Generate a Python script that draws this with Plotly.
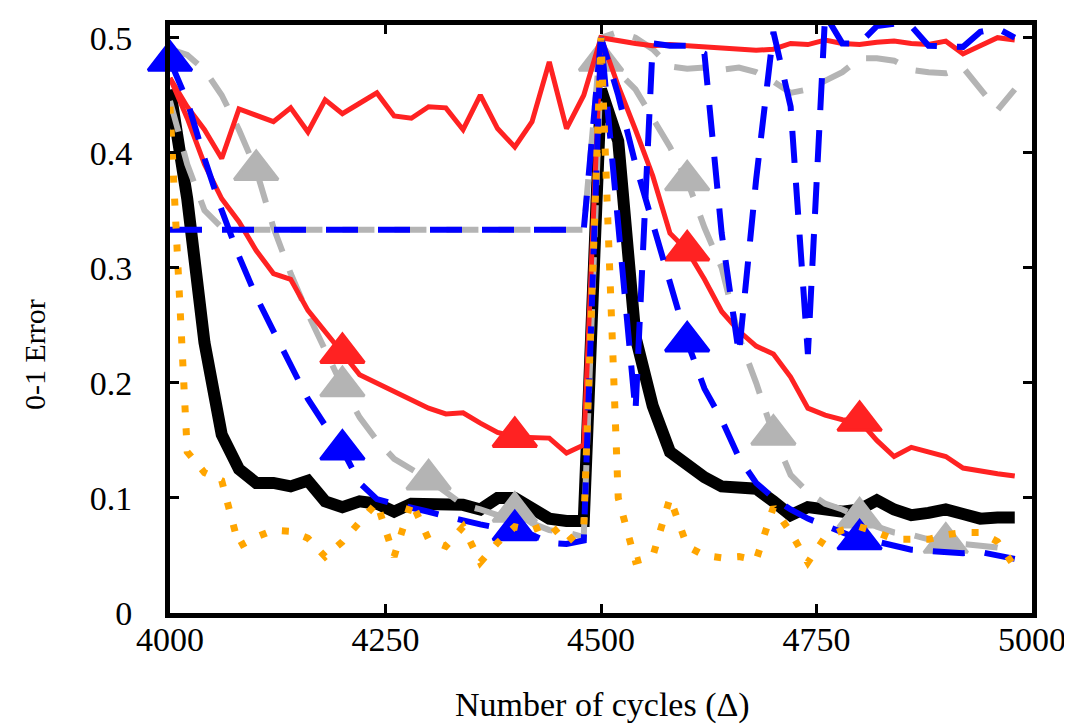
import plotly.graph_objects as go

cycles = list(range(4000, 5000, 20))

black_err = [0.455, 0.36, 0.235, 0.155, 0.125, 0.113, 0.113, 0.11, 0.115, 0.097,
             0.092, 0.097, 0.095, 0.088, 0.095, 0.095, 0.095, 0.094, 0.09, 0.1,
             0.1, 0.09, 0.082, 0.08, 0.08, 0.455, 0.41, 0.24, 0.18, 0.14,
             0.128, 0.118, 0.11, 0.11, 0.108, 0.097, 0.085, 0.092, 0.091, 0.088,
             0.09, 0.098, 0.09, 0.085, 0.087, 0.09, 0.086, 0.082, 0.083, 0.083]

red_flat = [0.465, 0.44, 0.42, 0.395, 0.438, 0.432, 0.427, 0.439, 0.418, 0.446,
            0.434, 0.443, 0.452, 0.432, 0.43, 0.44, 0.439, 0.42, 0.45, 0.421,
            0.405, 0.427, 0.479, 0.421, 0.45, 0.5, 0.497, 0.495, 0.493, 0.494,
            0.493, 0.492, 0.491, 0.49, 0.489, 0.49, 0.495, 0.494, 0.498, 0.495,
            0.494, 0.496, 0.497, 0.495, 0.494, 0.497, 0.486, 0.493, 0.5, 0.498]

red_tri = [0.465, 0.43, 0.39, 0.36, 0.34, 0.315, 0.295, 0.29, 0.263, 0.245,
           0.226, 0.207, 0.2, 0.192, 0.185, 0.178, 0.173, 0.174, 0.165, 0.157,
           0.153, 0.152, 0.152, 0.139, 0.146, 0.5, 0.458, 0.42, 0.38, 0.33,
           0.315, 0.29, 0.262, 0.245, 0.232, 0.225, 0.205, 0.178, 0.172, 0.168,
           0.167, 0.15, 0.136, 0.144, 0.14, 0.136, 0.126, 0.123, 0.121, 0.119]

blue_tri = [0.48, 0.445, 0.395, 0.35, 0.31, 0.275, 0.245, 0.215, 0.186, 0.163,
            0.142, 0.113, 0.099, 0.095, 0.092, 0.088, 0.084, 0.08, 0.077, 0.074,
            0.072, 0.068, 0.061, 0.06, 0.063, 0.5, 0.45, 0.39, 0.34, 0.29,
            0.236, 0.195, 0.168, 0.135, 0.113, 0.1, 0.09, 0.082, 0.076, 0.07,
            0.064, 0.062, 0.058, 0.055, 0.054, 0.053, 0.052, 0.053, 0.05, 0.047]

blue_flat = [0.333, 0.333, 0.333, 0.333, 0.333, 0.333, 0.333, 0.333, 0.333, 0.333,
             0.333, 0.333, 0.333, 0.333, 0.333, 0.333, 0.333, 0.333, 0.333, 0.333,
             0.333, 0.333, 0.333, 0.333, 0.333, 0.5, 0.34, 0.175, 0.495, 0.493,
             0.493, 0.486, 0.33, 0.225, 0.377, 0.505, 0.44, 0.225, 0.52, 0.495,
             0.495, 0.51, 0.512, 0.51, 0.493, 0.493, 0.492, 0.505, 0.508, 0.5]

gray_tri = [0.49, 0.485, 0.472, 0.45, 0.42, 0.385, 0.335, 0.295, 0.26, 0.228,
            0.197, 0.17, 0.15, 0.134, 0.125, 0.116, 0.105, 0.094, 0.09, 0.085,
            0.088, 0.078, 0.072, 0.07, 0.066, 0.48, 0.47, 0.455, 0.43, 0.405,
            0.376, 0.335, 0.3, 0.24, 0.2, 0.155, 0.12, 0.105, 0.095, 0.09,
            0.083, 0.075, 0.07, 0.068, 0.064, 0.061, 0.06, 0.058, 0.057, 0.053]

gray_flat = [0.445, 0.39, 0.35, 0.335, 0.333, 0.333, 0.333, 0.333, 0.333, 0.333,
             0.333, 0.333, 0.333, 0.333, 0.333, 0.333, 0.333, 0.333, 0.333, 0.333,
             0.333, 0.333, 0.333, 0.333, 0.333, 0.5, 0.505, 0.5, 0.49, 0.475,
             0.473, 0.474, 0.472, 0.474, 0.47, 0.462, 0.452, 0.455, 0.462, 0.47,
             0.482, 0.482, 0.48, 0.472, 0.47, 0.469, 0.474, 0.455, 0.437, 0.455]

orange_err = [0.44, 0.14, 0.122, 0.115, 0.058, 0.066, 0.072, 0.071, 0.065, 0.049,
              0.062, 0.08, 0.096, 0.049, 0.097, 0.064, 0.058, 0.075, 0.044, 0.061,
              0.075, 0.072, 0.078, 0.061, 0.075, 0.5, 0.1, 0.045, 0.049, 0.1,
              0.058, 0.05, 0.048, 0.049, 0.046, 0.092, 0.07, 0.044, 0.066, 0.072,
              0.075, 0.07, 0.064, 0.064, 0.064, 0.068, 0.07, 0.07, 0.062, 0.04]

x_ticks = [4000, 4250, 4500, 4750, 5000]
y_ticks = [0, 0.1, 0.2, 0.3, 0.4, 0.5]
y_tick_text = ["0", "0.1", "0.2", "0.3", "0.4", "0.5"]

RED = "#ff2222"
BLUE = "#0000ff"
GRAY = "#b4b4b4"
ORANGE = "#ffa500"
FONT = "Liberation Serif"

fig = go.Figure()

def line(y, color, width, dash="solid"):
    fig.add_trace(go.Scatter(x=cycles, y=y, mode="lines",
                             line=dict(color=color, width=width, dash=dash),
                             hoverinfo="skip", showlegend=False))

def tri(xs, ys, color):
    fig.add_trace(go.Scatter(x=xs, y=ys, mode="markers", cliponaxis=False,
                             marker=dict(symbol="triangle-up", size=38, color=color,
                                         line=dict(width=3, color=color)),
                             hoverinfo="skip", showlegend=False))

line(black_err, "black", 12)
line(gray_flat, GRAY, 6, "32px,20px")
line(gray_tri, GRAY, 6, "32px,20px")
tri(cycles[5::5], gray_tri[5::5], GRAY)
line(red_flat, RED, 5)
line(red_tri, RED, 5)
tri(cycles[10::10], red_tri[10::10], RED)
line(blue_flat, BLUE, 6, "32px,20px")
line(blue_tri, BLUE, 6, "32px,20px")
tri(cycles[0::10], blue_tri[0::10], BLUE)
line(orange_err, ORANGE, 7, "7px,16px")

axis_common = dict(showline=True, linewidth=5, linecolor="black", mirror="allticks",
                   ticks="inside", ticklen=9, tickwidth=3, tickcolor="black",
                   showgrid=False, zeroline=False,
                   tickfont=dict(family=FONT, size=34, color="black"))

fig.update_xaxes(range=[4000, 5000], tickvals=x_ticks, ticklabelstandoff=-8, **axis_common)
fig.update_yaxes(range=[0, 0.511], tickvals=y_ticks, ticktext=y_tick_text,
                 ticklabelstandoff=26, **axis_common)

fig.add_annotation(text="Number of cycles (\u0394)", xref="paper", yref="paper",
                   x=0.502, y=-0.156, xanchor="center", yanchor="middle",
                   showarrow=False, font=dict(family=FONT, size=34, color="black"))
fig.add_annotation(text="0-1 Error", xref="paper", yref="paper", textangle=-90,
                   x=-0.158, y=0.44, xanchor="center", yanchor="middle",
                   showarrow=False, font=dict(family=FONT, size=30, color="black"))

fig.update_layout(width=1072, height=726, margin=dict(l=162, r=48, t=17, b=121),
                  paper_bgcolor="white", plot_bgcolor="white", showlegend=False)

fig.write_html("out.html")
